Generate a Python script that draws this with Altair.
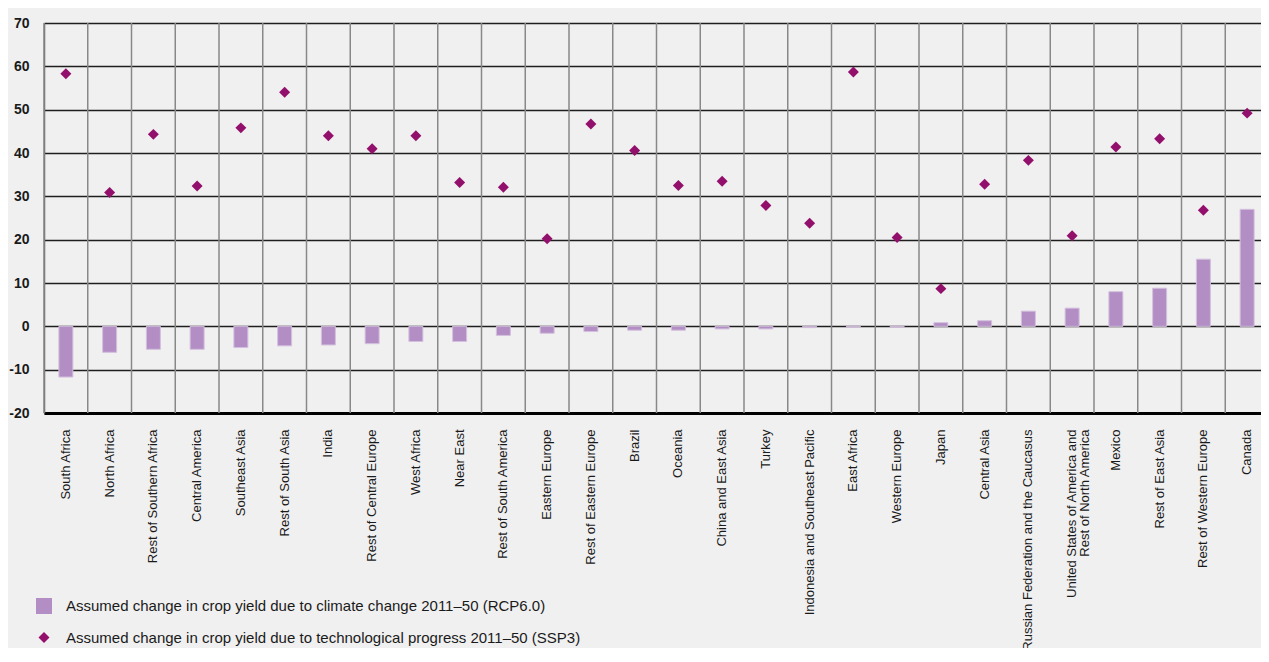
import altair as alt
import pandas as pd

categories = [
    "South Africa", "North Africa", "Rest of Southern Africa", "Central America",
    "Southeast Asia", "Rest of South Asia", "India", "Rest of Central Europe",
    "West Africa", "Near East", "Rest of South America", "Eastern Europe",
    "Rest of Eastern Europe", "Brazil", "Oceania", "China and East Asia", "Turkey",
    "Indonesia and Southeast Pacific", "East Africa", "Western Europe", "Japan",
    "Central Asia", "Russian Federation and the Caucasus",
    "United States of America and Rest of North America", "Mexico",
    "Rest of East Asia", "Rest of Western Europe", "Canada",
]
climate_change = [-11.7, -6.0, -5.3, -5.3, -4.9, -4.5, -4.3, -4.0, -3.5, -3.5,
                  -2.1, -1.6, -1.2, -0.9, -0.9, -0.6, -0.6, -0.3, -0.2, -0.2,
                  0.85, 1.3, 3.5, 4.2, 8.0, 8.8, 15.5, 27.0]
tech_progress = [58.3, 30.9, 44.3, 32.4, 45.8, 54.0, 44.0, 41.0, 44.0, 33.2,
                 32.1, 20.2, 46.7, 40.6, 32.5, 33.5, 27.9, 23.8, 58.7, 20.5,
                 8.7, 32.8, 38.3, 20.9, 41.4, 43.3, 26.8, 49.2]
series_names = [
    "Assumed change in crop yield due to climate change 2011\u201350 (RCP6.0)",
    "Assumed change in crop yield due to technological progress 2011\u201350 (SSP3)",
]
y_ticks = [-20, -10, 0, 10, 20, 30, 40, 50, 60, 70]

rows = []
for r, c, t in zip(categories, climate_change, tech_progress):
    rows.append({"region": r, "series": series_names[0], "value": c})
    rows.append({"region": r, "series": series_names[1], "value": t})
df = pd.DataFrame(rows)
grid_df = pd.DataFrame({"region": categories})

FONT = "Liberation Sans"
TXT = "#1a1a1a"
W, H = 1217, 390
X_RANGE = 1225

usa = "United States of America and Rest of North America"
label_expr = (
    f"datum.label == '{usa}' ? ['United States of America and', 'Rest of North America'] : datum.label"
)

x_axis = alt.Axis(
    labelAngle=-90, labelFont=FONT, labelFontSize=13, labelColor=TXT,
    labelPadding=16, labelLimit=400, ticks=False, grid=False,
    domainColor="#000000", domainWidth=3, labelExpr=label_expr,
    labelLineHeight=13,
)
x_scale = alt.Scale(paddingInner=0, paddingOuter=0, range=[0, X_RANGE])

y_enc = alt.Y(
    "value:Q", title=None,
    scale=alt.Scale(domain=[-20, 70], nice=False, zero=False),
    axis=alt.Axis(
        values=y_ticks, labelFont=FONT, labelFontSize=14, labelFontWeight="bold",
        labelColor=TXT, ticks=False, labelPadding=15, labelExpr="'' + datum.value",
        gridColor="#1e1e1e", gridWidth=1.3, domainColor="#666666", domainWidth=1.5,
    ),
)

color_enc = alt.Color(
    "series:N",
    scale=alt.Scale(domain=series_names, range=["#b38ec4", "#930f6c"]),
    legend=alt.Legend(
        orient="none", legendX=-8, legendY=575, direction="vertical", title=None,
        labelFont=FONT, labelFontSize=15, labelColor=TXT, labelLimit=900,
        rowPadding=16, labelOffset=14, symbolStrokeWidth=0,
    ),
)
shape_enc = alt.Shape(
    "series:N",
    scale=alt.Scale(domain=series_names, range=["square", "diamond"]),
)
size_enc = alt.Size(
    "series:N",
    scale=alt.Scale(domain=series_names, range=[256, 120]),
)

vgrid = alt.Chart(grid_df).mark_rule(color="#888888", strokeWidth=1.5).encode(
    x=alt.X("region:N", sort=categories, title=None, axis=x_axis, scale=x_scale,
            bandPosition=0),
    y=alt.value(0),
    y2=alt.value(H),
)

bars = alt.Chart(df).transform_filter(
    alt.datum.series == series_names[0]
).mark_bar(stroke="#d4c0de", strokeWidth=1, width=alt.RelativeBandSize(0.32)).encode(
    x=alt.X("region:N", sort=categories, title=None, axis=x_axis, scale=x_scale),
    y=y_enc,
    color=color_enc,
)

points = alt.Chart(df).transform_filter(
    alt.datum.series == series_names[1]
).mark_point(filled=True, opacity=1).encode(
    x=alt.X("region:N", sort=categories, title=None, axis=x_axis, scale=x_scale),
    y=y_enc,
    color=color_enc,
    shape=shape_enc,
    size=size_enc,
)

chart = alt.layer(vgrid, bars, points).properties(
    width=W, height=H,
    autosize=alt.AutoSizeParams(type="none"),
    padding={"left": 36, "top": 15, "right": 0, "bottom": 235},
    background="#f0f0f0",
).configure_view(stroke=None)

chart.save("out.html", embed_options={"renderer": "svg", "actions": False})
